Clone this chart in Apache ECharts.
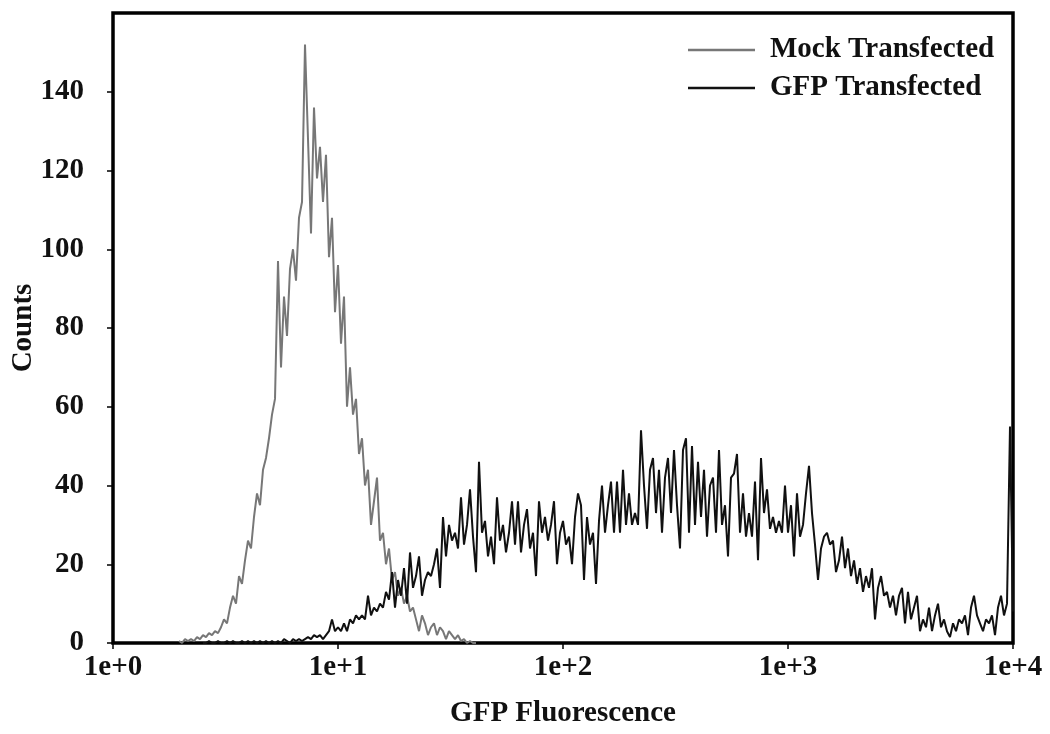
<!DOCTYPE html>
<html>
<head>
<meta charset="utf-8">
<script src="https://cdn.jsdelivr.net/npm/echarts@6/dist/echarts.min.js"></script>
<style>
  html, body { margin: 0; padding: 0; background: #fff; }
  #chart { width: 1050px; height: 734px; }
</style>
</head>
<body>
<div id="chart"></div>
<script>
// histogram channels, 75 per decade on the log axis
var channelsPerDecade = 75;

var seriesNames = ['Mock Transfected', 'GFP Transfected'];
var xTickExponents = [0, 1, 2, 3, 4];
var yTicks = [0, 20, 40, 60, 80, 100, 120, 140];

// Mock transfected counts, from channel 22
var mockStart = 22;
var mockCounts = [
  0.5, 0, 1, 0.5, 1, 0.5, 1.5, 1, 2, 1.5,
  2.5, 2, 3, 2.5, 4, 6, 5, 9, 12, 10,
  17, 15, 21, 26, 24, 32, 38, 35, 44, 47,
  52, 58, 62, 97, 70, 88, 78, 95, 100, 92,
  108, 112, 152, 128, 104, 136, 118, 126, 112, 124,
  98, 108, 84, 96, 76, 88, 60, 70, 58, 62,
  48, 52, 40, 44, 30, 36, 42, 26, 28, 20,
  24, 16, 18, 12, 14, 10, 12, 8, 9, 6,
  3, 7, 5, 2, 4, 5, 2, 4, 3, 1,
  3, 2, 1, 2, 0.5, 1, 0, 0.5, 0, 0
];

// GFP transfected counts, from channel 30
var gfpStart = 30;
var gfpCounts = [
  0, 0, 0.5, 0, 0, 0.5, 0, 0, 0.5, 0,
  0.5, 0, 0, 0.5, 0, 0.5, 0, 0.5, 0, 0.5,
  0, 0.5, 0, 0.5, 0, 0.5, 0, 1, 0.5, 0,
  1, 0.5, 1, 0.5, 1, 1.5, 1, 2, 1.5, 2,
  1, 2, 3, 6, 3, 4, 3, 5, 3, 6,
  5, 7, 6, 7, 6, 12, 7, 9, 8, 10,
  9, 13, 11, 18, 9, 16, 12, 19, 10, 23,
  14, 17, 22, 12, 16, 18, 17, 20, 24, 14,
  32, 22, 30, 26, 28, 24, 37, 25, 30, 39,
  27, 18, 46, 28, 31, 22, 27, 20, 37, 26,
  30, 23, 28, 36, 25, 36, 23, 30, 34, 24,
  28, 17, 36, 28, 32, 26, 30, 36, 20, 28,
  31, 25, 27, 20, 32, 38, 35, 16, 32, 25,
  28, 15, 31, 40, 28, 35, 41, 28, 41, 28,
  44, 30, 38, 30, 33, 30, 54, 40, 29, 44,
  47, 33, 44, 28, 42, 47, 33, 49, 35, 24,
  49, 52, 28, 50, 30, 46, 32, 44, 27, 40,
  42, 28, 49, 30, 35, 22, 42, 43, 48, 28,
  38, 27, 33, 27, 41, 21, 47, 33, 39, 29,
  32, 28, 31, 28, 40, 28, 35, 22, 38, 27,
  30, 38, 45, 33, 25, 16, 24, 27, 28, 25,
  26, 18, 21, 27, 19, 24, 17, 21, 15, 19,
  13, 17, 14, 19, 6, 14, 17, 12, 13, 9,
  12, 7, 12, 14, 5, 13, 6, 9, 12, 3,
  6, 4, 9, 3, 7, 10, 4, 6, 3, 1.5,
  5, 3, 6, 5, 7, 2, 9, 12, 7, 5,
  3, 6, 5, 7, 2, 9, 12, 7, 10, 55,
  8
];

var toPoints = function (start, counts) {
  var pts = [];
  for (var i = 0; i < counts.length; i++) {
    pts.push([Math.pow(10, (start + i) / channelsPerDecade), counts[i]]);
  }
  return pts;
};

var font = "'Liberation Serif', 'Times New Roman', serif";
var mockColor = '#777';
var gfpColor = '#111';

var option = {
  backgroundColor: '#fff',
  animation: false,
  grid: {
    left: 113,
    right: 37,
    top: 13,
    bottom: 91,
    outerBoundsMode: 'none',
    containLabel: false,
    show: true,
    borderColor: '#000',
    borderWidth: 3.5,
    backgroundColor: 'transparent'
  },
  legend: {
    orient: 'vertical',
    left: 683,
    top: 30,
    itemWidth: 67,
    itemHeight: 2.5,
    itemGap: 8,
    selectedMode: false,
    data: [
      { name: seriesNames[0], icon: 'rect' },
      { name: seriesNames[1], icon: 'rect' }
    ],
    textStyle: {
      fontFamily: font,
      fontWeight: 'bold',
      fontSize: 29,
      lineHeight: 30,
      color: '#111',
      padding: [0, 0, 0, 10]
    }
  },
  xAxis: {
    type: 'log',
    logBase: 10,
    min: Math.pow(10, xTickExponents[0]),
    max: Math.pow(10, xTickExponents[xTickExponents.length - 1]),
    name: 'GFP Fluorescence',
    nameLocation: 'middle',
    nameGap: 56,
    nameTextStyle: { fontFamily: font, fontWeight: 'bold', fontSize: 29, color: '#111' },
    axisLine: { show: false },
    axisTick: { show: true, inside: false, length: 6, lineStyle: { color: '#000', width: 1.5 } },
    minorTick: { show: false },
    splitLine: { show: false },
    axisLabel: {
      margin: 10,
      fontFamily: font,
      fontWeight: 'bold',
      fontSize: 29,
      color: '#111',
      formatter: function (v) {
        return '1e+' + Math.round(Math.log10(v));
      }
    }
  },
  yAxis: {
    type: 'value',
    min: yTicks[0],
    max: 160,
    interval: yTicks[1] - yTicks[0],
    name: 'Counts',
    nameLocation: 'middle',
    nameRotate: 90,
    nameGap: 75,
    nameMoveOverlap: false,
    nameTextStyle: { fontFamily: font, fontWeight: 'bold', fontSize: 29, color: '#111' },
    axisLine: { show: false },
    axisTick: {
      show: true, inside: false, length: 6,
      customValues: yTicks,
      lineStyle: { color: '#000', width: 1.5 }
    },
    splitLine: { show: false },
    axisLabel: {
      margin: 29,
      fontFamily: font,
      fontWeight: 'bold',
      fontSize: 29,
      color: '#111',
      customValues: yTicks
    }
  },
  series: [
    {
      name: seriesNames[0],
      type: 'line',
      symbol: 'none',
      smooth: false,
      lineStyle: { color: mockColor, width: 2 },
      itemStyle: { color: mockColor },
      data: toPoints(mockStart, mockCounts)
    },
    {
      name: seriesNames[1],
      type: 'line',
      symbol: 'none',
      smooth: false,
      lineStyle: { color: gfpColor, width: 2 },
      itemStyle: { color: gfpColor },
      data: toPoints(gfpStart, gfpCounts)
    }
  ]
};

var chart = echarts.init(document.getElementById('chart'), null, { renderer: 'canvas' });
chart.setOption(option);
</script>
</body>
</html>
